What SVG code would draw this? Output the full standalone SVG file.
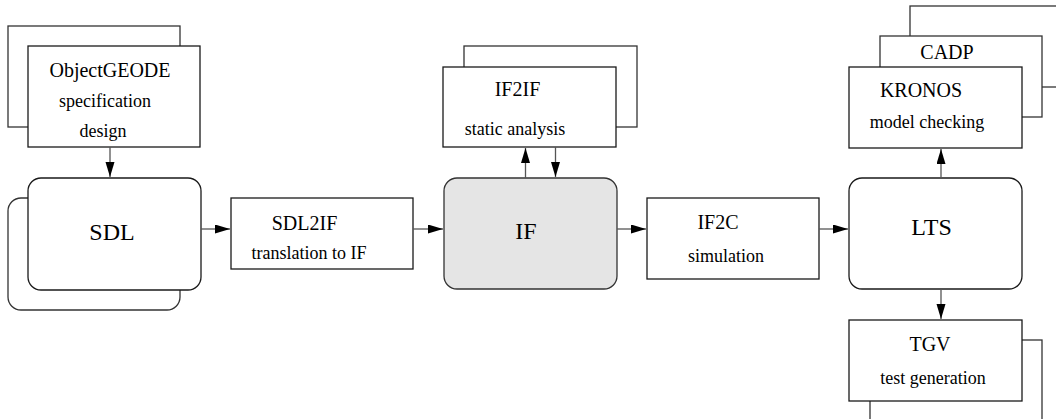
<svg xmlns="http://www.w3.org/2000/svg" width="1056" height="419" viewBox="0 0 1056 419">
<style>
.box{fill:#fff;stroke:#1a1a1a;stroke-width:1.3}
.back{fill:#fff;stroke:#333;stroke-width:1.3}
.hl{fill:#e5e5e5;stroke:#333;stroke-width:1.3}
.t{font-family:"Liberation Serif","Times New Roman",serif;font-size:20px;fill:#000;text-anchor:middle}
.s{font-family:"Liberation Serif","Times New Roman",serif;font-size:18px;fill:#000;text-anchor:middle}
.b{font-family:"Liberation Serif","Times New Roman",serif;font-size:24px;fill:#000;text-anchor:middle}
.c{fill:none;stroke:#555;stroke-width:1.3;marker-end:url(#ah)}
</style>
<defs>
<marker id="ah" markerWidth="16" markerHeight="10" refX="15" refY="4.5" orient="auto" markerUnits="userSpaceOnUse">
<path d="M0,0 L15,4.5 L0,9 Z" fill="#000"/>
</marker>
</defs>
<rect width="1056" height="419" fill="#fff"/>
<g id="objectgeode">
<rect class="back" x="8" y="26" width="172" height="101"/>
<rect class="box" x="28" y="46" width="172" height="101"/>
<text class="t" x="110" y="77">ObjectGEODE</text>
<text class="s" x="105" y="107">specification</text>
<text class="s" x="103" y="137">design</text>
</g>
<g id="sdl">
<rect class="back" x="8" y="198" width="172" height="112" rx="13"/>
<rect class="box" x="28" y="178" width="173" height="112" rx="13"/>
<text class="b" x="112" y="240">SDL</text>
</g>
<g id="sdl2if">
<rect class="box" x="231" y="198" width="182" height="71"/>
<text class="t" x="304.5" y="230">SDL2IF</text>
<text class="s" x="309" y="259">translation to IF</text>
</g>
<g id="if">
<rect class="hl" x="444" y="178" width="173" height="111" rx="13"/>
<text class="b" x="526" y="239">IF</text>
</g>
<g id="if2if">
<rect class="back" x="464" y="46" width="173" height="81"/>
<rect class="box" x="443" y="67" width="173" height="80"/>
<text class="t" x="517.5" y="96">IF2IF</text>
<text class="s" x="515" y="135">static analysis</text>
</g>
<g id="if2c">
<rect class="box" x="647" y="198" width="172" height="81"/>
<text class="t" x="718" y="229">IF2C</text>
<text class="s" x="726" y="262">simulation</text>
</g>
<g id="lts">
<rect class="box" x="849" y="178" width="173" height="111" rx="13"/>
<text class="b" x="931.5" y="235">LTS</text>
</g>
<g id="kronos">
<rect class="back" x="910" y="6" width="170" height="81"/>
<rect class="back" x="880" y="36" width="162" height="81"/>
<rect class="box" x="849" y="67" width="173" height="81"/>
<text class="t" x="947" y="59">CADP</text>
<text class="t" x="921" y="97">KRONOS</text>
<text class="s" x="927" y="128">model checking</text>
</g>
<g id="tgv">
<rect class="back" x="870" y="340" width="172" height="100"/>
<rect class="box" x="849" y="320" width="173" height="81"/>
<text class="t" x="930" y="351">TGV</text>
<text class="s" x="933" y="384">test generation</text>
</g>
<g id="connectors">
<path class="c" d="M110,147 L110,177"/>
<path class="c" d="M201,229 L230,229"/>
<path class="c" d="M413,229 L443,229"/>
<path class="c" d="M617,229 L646,229"/>
<path class="c" d="M819,229 L848,229"/>
<path class="c" d="M525.5,178 L525.5,148"/>
<path class="c" d="M555.5,147 L555.5,177"/>
<path class="c" d="M941,178 L941,149"/>
<path class="c" d="M941,289 L941,319"/>
</g>
</svg>
